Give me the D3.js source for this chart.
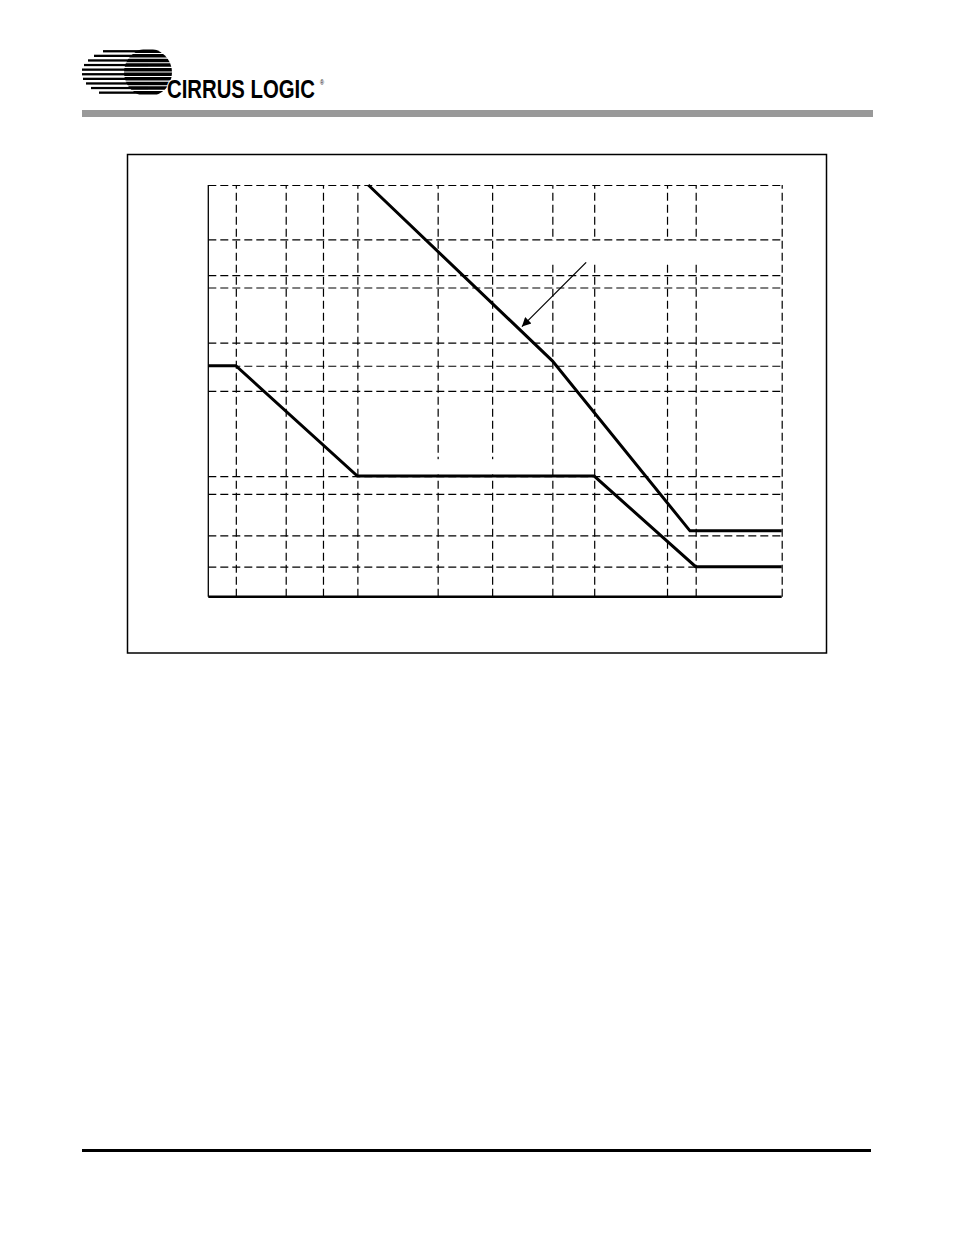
<!DOCTYPE html>
<html><head><meta charset="utf-8">
<script src="https://cdn.jsdelivr.net/npm/d3@7"></script>
<style>html,body{margin:0;padding:0;background:#fff}svg{display:block}</style>
</head><body><div id="chart"></div>
<script>
// ---- data (abstract units, 0..100 on both axes; labels absent in the source) ----
const xGridValues = [4.8, 13.5, 20, 26, 40, 49.5, 60, 67.3, 80, 85, 100];
const yGridValues = [7.3, 14.9, 25, 29.3, 50, 56.1, 61.7, 75.1, 78.1, 86.8, 100];
const upperX = [27.9, 60, 84, 100];
const upperY = [100, 57.3, 16, 16];
const lowerX = [0, 4.8, 26, 67.3, 85, 100];
const lowerY = [56.1, 56.1, 29.3, 29.3, 7.3, 7.3];
const arrowX = [65.9, 54.7];
const arrowY = [81.2, 65.6];
// blank label areas over the grid: [x0, x1, y0, y1]
const labelBoxA = [50.9, 92.7, 81.5, 86.4];
const labelBoxB = [29.9, 57.8, 29.7, 33.4];
const logoText = "CIRRUS LOGIC";

const W = 954, H = 1235;
const svg = d3.select("#chart").append("svg").attr("width", W).attr("height", H);

// ---- header logo ----
const defs = svg.append("defs");
const stripeTops = d3.range(10).map(i => 49.5 + i * 4.6);
const tailStart = [103, 94, 88, 84, 82, 82, 83, 86, 91, 99];
const clip = defs.append("clipPath").attr("id", "stripes");
stripeTops.forEach(t => clip.append("rect").attr("x", 0).attr("y", t).attr("width", 200).attr("height", 3.5));
const lg = svg.append("g").attr("clip-path", "url(#stripes)");
lg.append("circle").attr("cx", 148).attr("cy", 72.5).attr("r", 24).attr("fill", "#000");
stripeTops.forEach((t, i) => lg.append("rect").attr("x", tailStart[i]).attr("y", t + 0.6)
  .attr("width", 148 - tailStart[i]).attr("height", 2.3).attr("fill", "#000"));

const logo = svg.append("text").attr("x", 0).attr("y", 0)
  .attr("font-family", "'Liberation Sans Narrow','Arial Narrow','Liberation Sans',sans-serif")
  .attr("font-weight", "bold").attr("font-size", 26)
  .attr("fill", "#000").attr("stroke", "#fff").attr("stroke-width", 2.5).attr("paint-order", "stroke");
const mainSpan = logo.append("tspan").text(logoText);
const natural = mainSpan.node().getComputedTextLength();
const sx = 148 / natural;
logo.append("tspan").attr("font-size", 7).attr("font-weight", "normal").attr("stroke-width", 0)
  .attr("font-family", "'Liberation Sans',sans-serif")
  .attr("dx", 5 / sx).attr("dy", -13).text("\u00AE");
logo.attr("transform", `translate(167,98) scale(${sx},1)`);

svg.append("rect").attr("x", 82).attr("y", 110).attr("width", 791).attr("height", 7).attr("fill", "#999");

// footer rule
svg.append("rect").attr("x", 82).attr("y", 1149).attr("width", 789).attr("height", 3).attr("fill", "#000");

// ---- frame ----
svg.append("rect").attr("x", 127.5).attr("y", 154.5).attr("width", 699).attr("height", 498.5)
  .attr("fill", "none").attr("stroke", "#000").attr("stroke-width", 1.5);

// ---- chart ----
const x = d3.scaleLinear().domain([0, 100]).range([208.3, 781.7]);
const y = d3.scaleLinear().domain([0, 100]).range([596.7, 185]);
const g = svg.append("g");

const gx = g.append("g").attr("transform", `translate(0,${y(0)})`)
  .call(d3.axisBottom(x).tickValues(xGridValues).tickSize(-(y(0) - y(100))).tickFormat(""));
gx.select(".domain").remove();
gx.selectAll(".tick line").attr("stroke", "#000").attr("stroke-width", 1.2).attr("stroke-dasharray", "8,4");

const gy = g.append("g").attr("transform", `translate(${x(0)},0)`)
  .call(d3.axisLeft(y).tickValues(yGridValues).tickSize(-(x(100) - x(0))).tickFormat(""));
gy.select(".domain").remove();
gy.selectAll(".tick line").attr("stroke", "#000").attr("stroke-width", 1.2).attr("stroke-dasharray", "8,4");

// blank label areas
[labelBoxA, labelBoxB].forEach(b => g.append("rect")
  .attr("x", x(b[0])).attr("y", y(b[3])).attr("width", x(b[1]) - x(b[0])).attr("height", y(b[2]) - y(b[3]))
  .attr("fill", "#fff"));

// axes lines
g.append("line").attr("x1", x(0)).attr("x2", x(0)).attr("y1", y(0)).attr("y2", y(100))
  .attr("stroke", "#000").attr("stroke-width", 1.3);
g.append("line").attr("x1", x(0)).attr("x2", x(100)).attr("y1", y(0)).attr("y2", y(0))
  .attr("stroke", "#000").attr("stroke-width", 2.5);

const line = d3.line().x(d => x(d[0])).y(d => y(d[1]));
g.append("path").attr("d", line(upperX.map((v, i) => [v, upperY[i]])))
  .attr("fill", "none").attr("stroke", "#000").attr("stroke-width", 3).attr("stroke-linejoin", "miter");
g.append("path").attr("d", line(lowerX.map((v, i) => [v, lowerY[i]])))
  .attr("fill", "none").attr("stroke", "#000").attr("stroke-width", 3).attr("stroke-linejoin", "miter");

// arrow
defs.append("marker").attr("id", "ah").attr("viewBox", "0 0 10 10").attr("refX", 10).attr("refY", 5)
  .attr("markerWidth", 12).attr("markerHeight", 9).attr("markerUnits", "userSpaceOnUse").attr("orient", "auto")
  .append("path").attr("d", "M0,0L10,5L0,10Z").attr("fill", "#000");
g.append("line").attr("x1", x(arrowX[0])).attr("y1", y(arrowY[0])).attr("x2", x(arrowX[1])).attr("y2", y(arrowY[1]))
  .attr("stroke", "#000").attr("stroke-width", 1.3).attr("marker-end", "url(#ah)");
</script></body></html>
